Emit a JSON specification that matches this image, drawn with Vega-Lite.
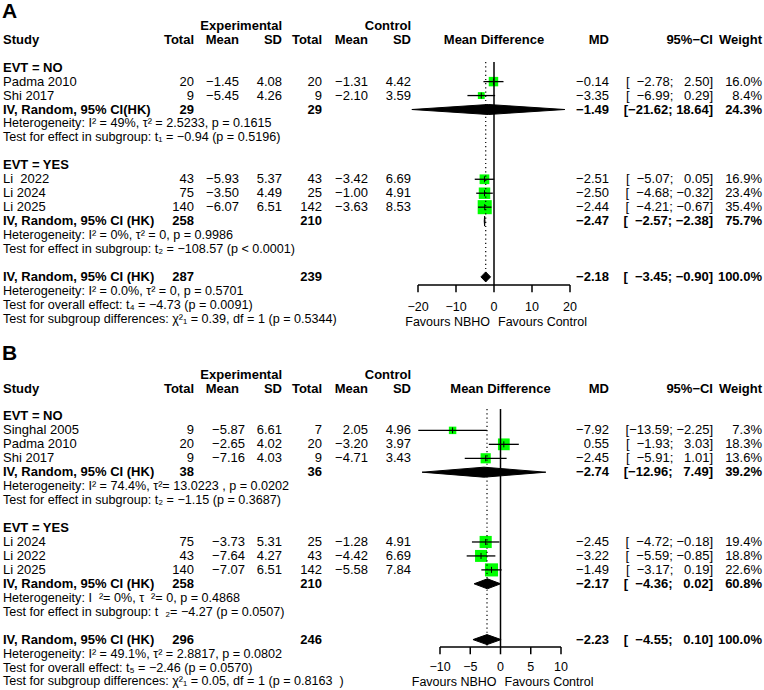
{
"$schema":"https://vega.github.io/schema/vega-lite/v6.json",
"width":764,"height":690,"padding":0,
"autosize":{"type":"fit","contains":"padding"},
"background":"#ffffff",
"config":{"view":{"stroke":null},"text":{"font":"Liberation Sans","fontSize":13,"baseline":"middle","color":"black"}},
"datasets":{
"rows":[
{"p":"A","r":0.45,"k":"panel","lab":"A"},
{"p":"A","r":1,"k":"hdr1","eS":"Experimental","cS":"Control"},
{"p":"A","r":2,"k":"hdr","lab":"Study","eT":"Total","eM":"Mean","eS":"SD","cT":"Total","cM":"Mean","cS":"SD","fp":"Mean Difference","mdT":"MD","ciT":"95%−CI","wT":"Weight"},
{"p":"A","r":4,"k":"group","lab":"EVT = NO"},
{"p":"A","r":5,"k":"study","lab":"Padma 2010","eT":"20","eM":"−1.45","eS":"4.08","cT":"20","cM":"−1.31","cS":"4.42","md":-0.14,"lo":-2.78,"hi":2.5,"w":16.0,"mdT":"−0.14","ciT":"[\u2007−2.78; \u20072.50]","wT":"16.0%"},
{"p":"A","r":6,"k":"study","lab":"Shi 2017","eT":"9","eM":"−5.45","eS":"4.26","cT":"9","cM":"−2.10","cS":"3.59","md":-3.35,"lo":-6.99,"hi":0.29,"w":8.4,"mdT":"−3.35","ciT":"[\u2007−6.99; \u20070.29]","wT":"8.4%"},
{"p":"A","r":7,"k":"sub","lab":"IV, Random, 95% CI(HK)","eT":"29","cT":"29","md":-1.49,"lo":-21.62,"hi":18.64,"mdT":"−1.49","ciT":"[−21.62; 18.64]","wT":"24.3%","dv":[-21.62,-1.49,18.64,-1.49],"dk":["m","t","m","b"]},
{"p":"A","r":8,"k":"het","lab":"Heterogeneity: I² = 49%, τ² = 2.5233, p = 0.1615"},
{"p":"A","r":9,"k":"het","lab":"Test for effect in subgroup: t₁ = −0.94 (p = 0.5196)"},
{"p":"A","r":11,"k":"group","lab":"EVT = YES"},
{"p":"A","r":12,"k":"study","lab":"Li\u00a0 2022","eT":"43","eM":"−5.93","eS":"5.37","cT":"43","cM":"−3.42","cS":"6.69","md":-2.51,"lo":-5.07,"hi":0.05,"w":16.9,"mdT":"−2.51","ciT":"[\u2007−5.07; \u20070.05]","wT":"16.9%"},
{"p":"A","r":13,"k":"study","lab":"Li 2024","eT":"75","eM":"−3.50","eS":"4.49","cT":"25","cM":"−1.00","cS":"4.91","md":-2.50,"lo":-4.68,"hi":-0.32,"w":23.4,"mdT":"−2.50","ciT":"[\u2007−4.68; −0.32]","wT":"23.4%"},
{"p":"A","r":14,"k":"study","lab":"Li 2025","eT":"140","eM":"−6.07","eS":"6.51","cT":"142","cM":"−3.63","cS":"8.53","md":-2.44,"lo":-4.21,"hi":-0.67,"w":35.4,"mdT":"−2.44","ciT":"[\u2007−4.21; −0.67]","wT":"35.4%"},
{"p":"A","r":15,"k":"sub","lab":"IV, Random, 95% CI (HK)","eT":"258","cT":"210","md":-2.47,"lo":-2.57,"hi":-2.38,"mdT":"−2.47","ciT":"[\u2007−2.57; −2.38]","wT":"75.7%","dv":[-2.57,-2.47,-2.38,-2.47],"dk":["m","t","m","b"]},
{"p":"A","r":16,"k":"het","lab":"Heterogeneity: I² = 0%, τ² = 0, p = 0.9986"},
{"p":"A","r":17,"k":"het","lab":"Test for effect in subgroup: t₂ = −108.57 (p < 0.0001)"},
{"p":"A","r":19,"k":"overall","lab":"IV, Random, 95% CI (HK)","eT":"287","cT":"239","md":-2.18,"lo":-3.45,"hi":-0.90,"mdT":"−2.18","ciT":"[\u2007−3.45; −0.90]","wT":"100.0%","dv":[-3.45,-2.18,-0.90,-2.18],"dk":["m","t","m","b"]},
{"p":"A","r":20,"k":"het","lab":"Heterogeneity: I² = 0.0%, τ² = 0, p = 0.5701"},
{"p":"A","r":21,"k":"het","lab":"Test for overall effect: t₄ = −4.73 (p = 0.0091)"},
{"p":"A","r":22,"k":"het","lab":"Test for subgroup differences: χ²₁ = 0.39, df = 1 (p = 0.5344)"},
{"p":"A","k":"tick","v":-20,"lab":"−20"},{"p":"A","k":"tick","v":-10,"lab":"−10"},{"p":"A","k":"tick","v":0,"lab":"0"},{"p":"A","k":"tick","v":10,"lab":"10"},{"p":"A","k":"tick","v":20,"lab":"20"},
{"p":"B","r":24.95,"k":"panel","lab":"B"},
{"p":"B","r":26,"k":"hdr1","eS":"Experimental","cS":"Control"},
{"p":"B","r":27,"k":"hdr","lab":"Study","eT":"Total","eM":"Mean","eS":"SD","cT":"Total","cM":"Mean","cS":"SD","fp":"Mean Difference","mdT":"MD","ciT":"95%−CI","wT":"Weight"},
{"p":"B","r":29,"k":"group","lab":"EVT = NO"},
{"p":"B","r":30,"k":"study","lab":"Singhal 2005","eT":"9","eM":"−5.87","eS":"6.61","cT":"7","cM":"2.05","cS":"4.96","md":-7.92,"lo":-13.59,"hi":-2.25,"w":7.3,"mdT":"−7.92","ciT":"[−13.59; −2.25]","wT":"7.3%"},
{"p":"B","r":31,"k":"study","lab":"Padma 2010","eT":"20","eM":"−2.65","eS":"4.02","cT":"20","cM":"−3.20","cS":"3.97","md":0.55,"lo":-1.93,"hi":3.03,"w":18.3,"mdT":"0.55","ciT":"[\u2007−1.93; \u20073.03]","wT":"18.3%"},
{"p":"B","r":32,"k":"study","lab":"Shi 2017","eT":"9","eM":"−7.16","eS":"4.03","cT":"9","cM":"−4.71","cS":"3.43","md":-2.45,"lo":-5.91,"hi":1.01,"w":13.6,"mdT":"−2.45","ciT":"[\u2007−5.91; \u20071.01]","wT":"13.6%"},
{"p":"B","r":33,"k":"sub","lab":"IV, Random, 95% CI (HK)","eT":"38","cT":"36","md":-2.74,"lo":-12.96,"hi":7.49,"mdT":"−2.74","ciT":"[−12.96; \u20077.49]","wT":"39.2%","dv":[-12.96,-2.74,7.49,-2.74],"dk":["m","t","m","b"]},
{"p":"B","r":34,"k":"het","lab":"Heterogeneity: I² = 74.4%, τ²= 13.0223 , p = 0.0202"},
{"p":"B","r":35,"k":"het","lab":"Test for effect in subgroup: t₂ = −1.15 (p = 0.3687)"},
{"p":"B","r":37,"k":"group","lab":"EVT = YES"},
{"p":"B","r":38,"k":"study","lab":"Li 2024","eT":"75","eM":"−3.73","eS":"5.31","cT":"25","cM":"−1.28","cS":"4.91","md":-2.45,"lo":-4.72,"hi":-0.18,"w":19.4,"mdT":"−2.45","ciT":"[\u2007−4.72; −0.18]","wT":"19.4%"},
{"p":"B","r":39,"k":"study","lab":"Li 2022","eT":"43","eM":"−7.64","eS":"4.27","cT":"43","cM":"−4.42","cS":"6.69","md":-3.22,"lo":-5.59,"hi":-0.85,"w":18.8,"mdT":"−3.22","ciT":"[\u2007−5.59; −0.85]","wT":"18.8%"},
{"p":"B","r":40,"k":"study","lab":"Li 2025","eT":"140","eM":"−7.07","eS":"6.51","cT":"142","cM":"−5.58","cS":"7.84","md":-1.49,"lo":-3.17,"hi":0.19,"w":22.6,"mdT":"−1.49","ciT":"[\u2007−3.17; \u20070.19]","wT":"22.6%"},
{"p":"B","r":41,"k":"sub","lab":"IV, Random, 95% CI (HK)","eT":"258","cT":"210","md":-2.17,"lo":-4.36,"hi":0.02,"mdT":"−2.17","ciT":"[\u2007−4.36; \u20070.02]","wT":"60.8%","dv":[-4.36,-2.17,0.02,-2.17],"dk":["m","t","m","b"]},
{"p":"B","r":42,"k":"het","lab":"Heterogeneity: I \u00a0²= 0%, τ \u00a0²= 0, p = 0.4868"},
{"p":"B","r":43,"k":"het","lab":"Test for effect in subgroup: t \u00a0₂= −4.27 (p = 0.0507)"},
{"p":"B","r":45,"k":"overall","lab":"IV, Random, 95% CI (HK)","eT":"296","cT":"246","md":-2.23,"lo":-4.55,"hi":0.10,"mdT":"−2.23","ciT":"[\u2007−4.55; \u20070.10]","wT":"100.0%","dv":[-4.55,-2.23,0.10,-2.23],"dk":["m","t","m","b"]},
{"p":"B","r":46,"k":"het","lab":"Heterogeneity: I² = 49.1%, τ² = 2.8817, p = 0.0802"},
{"p":"B","r":47,"k":"het","lab":"Test for overall effect: t₅ = −2.46 (p = 0.0570)"},
{"p":"B","r":48,"k":"het","lab":"Test for subgroup differences: χ²₁ = 0.05, df = 1 (p = 0.8163\u00a0 )"},
{"p":"B","k":"tick","v":-10,"lab":"−10"},{"p":"B","k":"tick","v":-5,"lab":"−5"},{"p":"B","k":"tick","v":0,"lab":"0"},{"p":"B","k":"tick","v":5,"lab":"5"},{"p":"B","k":"tick","v":10,"lab":"10"}
]
},
"data":{"name":"rows"},
"layer":[
{"encoding":{"y":{"field":"r","type":"quantitative","scale":{"domain":[-0.85,48.61],"reverse":true,"nice":false,"zero":false},"axis":null}},
"layer":[
{"transform":[{"filter":"datum.k=='panel'"}],"mark":{"type":"text","align":"left","baseline":"alphabetic","fontSize":21,"fontWeight":"bold"},"encoding":{"x":{"datum":2,"type":"quantitative","scale":{"domain":[0,764],"nice":false,"zero":false},"axis":null},"text":{"field":"lab","type":"nominal"}}},
{"transform":[{"filter":"datum.k=='study'"}],"mark":{"type":"text","align":"left"},"encoding":{"x":{"datum":3,"type":"quantitative","scale":{"domain":[0,764],"nice":false,"zero":false},"axis":null},"text":{"field":"lab","type":"nominal"}}},
{"transform":[{"filter":"datum.k=='hdr'||datum.k=='group'||datum.k=='sub'||datum.k=='overall'"}],"mark":{"type":"text","align":"left","fontWeight":"bold"},"encoding":{"x":{"datum":3,"type":"quantitative","scale":{"domain":[0,764],"nice":false,"zero":false},"axis":null},"text":{"field":"lab","type":"nominal"}}},
{"transform":[{"filter":"datum.k=='het'"}],"mark":{"type":"text","align":"left","fontSize":12.6},"encoding":{"x":{"datum":3,"type":"quantitative","scale":{"domain":[0,764],"nice":false,"zero":false},"axis":null},"text":{"field":"lab","type":"nominal"}}},
{"transform":[{"filter":"datum.k=='study'"}],"mark":{"type":"text","align":"right"},"encoding":{"x":{"datum":194,"type":"quantitative","scale":{"domain":[0,764],"nice":false,"zero":false},"axis":null},"text":{"field":"eT","type":"nominal"}}},
{"transform":[{"filter":"datum.k!='study' && datum.eT"}],"mark":{"type":"text","align":"right","fontWeight":"bold"},"encoding":{"x":{"datum":194,"type":"quantitative","scale":{"domain":[0,764],"nice":false,"zero":false},"axis":null},"text":{"field":"eT","type":"nominal"}}},
{"transform":[{"filter":"datum.k=='study' && datum.p=='A'"}],"mark":{"type":"text","align":"right"},"encoding":{"x":{"datum":239,"type":"quantitative","scale":{"domain":[0,764],"nice":false,"zero":false},"axis":null},"text":{"field":"eM","type":"nominal"}}},
{"transform":[{"filter":"datum.k=='study' && datum.p=='B'"}],"mark":{"type":"text","align":"right"},"encoding":{"x":{"datum":245,"type":"quantitative","scale":{"domain":[0,764],"nice":false,"zero":false},"axis":null},"text":{"field":"eM","type":"nominal"}}},
{"transform":[{"filter":"datum.k!='study' && datum.eM"}],"mark":{"type":"text","align":"right","fontWeight":"bold"},"encoding":{"x":{"datum":239,"type":"quantitative","scale":{"domain":[0,764],"nice":false,"zero":false},"axis":null},"text":{"field":"eM","type":"nominal"}}},
{"transform":[{"filter":"datum.k=='study'"}],"mark":{"type":"text","align":"right"},"encoding":{"x":{"datum":282,"type":"quantitative","scale":{"domain":[0,764],"nice":false,"zero":false},"axis":null},"text":{"field":"eS","type":"nominal"}}},
{"transform":[{"filter":"datum.k!='study' && datum.eS"}],"mark":{"type":"text","align":"right","fontWeight":"bold"},"encoding":{"x":{"datum":282,"type":"quantitative","scale":{"domain":[0,764],"nice":false,"zero":false},"axis":null},"text":{"field":"eS","type":"nominal"}}},
{"transform":[{"filter":"datum.k=='study'"}],"mark":{"type":"text","align":"right"},"encoding":{"x":{"datum":322,"type":"quantitative","scale":{"domain":[0,764],"nice":false,"zero":false},"axis":null},"text":{"field":"cT","type":"nominal"}}},
{"transform":[{"filter":"datum.k!='study' && datum.cT"}],"mark":{"type":"text","align":"right","fontWeight":"bold"},"encoding":{"x":{"datum":322,"type":"quantitative","scale":{"domain":[0,764],"nice":false,"zero":false},"axis":null},"text":{"field":"cT","type":"nominal"}}},
{"transform":[{"filter":"datum.k=='study'"}],"mark":{"type":"text","align":"right"},"encoding":{"x":{"datum":368,"type":"quantitative","scale":{"domain":[0,764],"nice":false,"zero":false},"axis":null},"text":{"field":"cM","type":"nominal"}}},
{"transform":[{"filter":"datum.k!='study' && datum.cM"}],"mark":{"type":"text","align":"right","fontWeight":"bold"},"encoding":{"x":{"datum":368,"type":"quantitative","scale":{"domain":[0,764],"nice":false,"zero":false},"axis":null},"text":{"field":"cM","type":"nominal"}}},
{"transform":[{"filter":"datum.k=='study'"}],"mark":{"type":"text","align":"right"},"encoding":{"x":{"datum":411,"type":"quantitative","scale":{"domain":[0,764],"nice":false,"zero":false},"axis":null},"text":{"field":"cS","type":"nominal"}}},
{"transform":[{"filter":"datum.k!='study' && datum.cS"}],"mark":{"type":"text","align":"right","fontWeight":"bold"},"encoding":{"x":{"datum":411,"type":"quantitative","scale":{"domain":[0,764],"nice":false,"zero":false},"axis":null},"text":{"field":"cS","type":"nominal"}}},
{"transform":[{"filter":"datum.k=='study'"}],"mark":{"type":"text","align":"right"},"encoding":{"x":{"datum":609,"type":"quantitative","scale":{"domain":[0,764],"nice":false,"zero":false},"axis":null},"text":{"field":"mdT","type":"nominal"}}},
{"transform":[{"filter":"datum.k!='study' && datum.mdT"}],"mark":{"type":"text","align":"right","fontWeight":"bold"},"encoding":{"x":{"datum":609,"type":"quantitative","scale":{"domain":[0,764],"nice":false,"zero":false},"axis":null},"text":{"field":"mdT","type":"nominal"}}},
{"transform":[{"filter":"datum.k=='study'"}],"mark":{"type":"text","align":"right"},"encoding":{"x":{"datum":713,"type":"quantitative","scale":{"domain":[0,764],"nice":false,"zero":false},"axis":null},"text":{"field":"ciT","type":"nominal"}}},
{"transform":[{"filter":"datum.k!='study' && datum.ciT"}],"mark":{"type":"text","align":"right","fontWeight":"bold"},"encoding":{"x":{"datum":713,"type":"quantitative","scale":{"domain":[0,764],"nice":false,"zero":false},"axis":null},"text":{"field":"ciT","type":"nominal"}}},
{"transform":[{"filter":"datum.k=='study'"}],"mark":{"type":"text","align":"right"},"encoding":{"x":{"datum":762,"type":"quantitative","scale":{"domain":[0,764],"nice":false,"zero":false},"axis":null},"text":{"field":"wT","type":"nominal"}}},
{"transform":[{"filter":"datum.k!='study' && datum.wT"}],"mark":{"type":"text","align":"right","fontWeight":"bold"},"encoding":{"x":{"datum":762,"type":"quantitative","scale":{"domain":[0,764],"nice":false,"zero":false},"axis":null},"text":{"field":"wT","type":"nominal"}}}
]},
{"layer":[
{"transform":[{"filter":"datum.p=='A' && datum.k=='study'"}],"mark":{"type":"point","shape":"square","filled":true,"color":"#00ff00","opacity":1,"strokeWidth":0},"encoding":{"x":{"field":"md","type":"quantitative","scale":{"domain":[-20,20],"range":[418,570],"nice":false,"zero":false},"axis":null},"y":{"field":"r","type":"quantitative","scale":{"domain":[-0.85,48.61],"reverse":true,"nice":false,"zero":false},"axis":null},"size":{"field":"w","type":"quantitative","scale":{"domain":[0,100],"range":[0,560],"zero":true},"legend":null}}},
{"transform":[{"filter":"datum.p=='A' && datum.k=='hdr'"}],"mark":{"type":"text","align":"center","fontWeight":"bold"},"encoding":{"x":{"datum":0,"type":"quantitative","scale":{"domain":[-20,20],"range":[418,570],"nice":false,"zero":false},"axis":null},"y":{"field":"r","type":"quantitative","scale":{"domain":[-0.85,48.61],"reverse":true,"nice":false,"zero":false},"axis":null},"text":{"field":"fp","type":"nominal"}}},
{"transform":[{"filter":"datum.p=='A' && datum.k=='overall'"}],"mark":{"type":"rule","color":"black","strokeWidth":1.5},"encoding":{"x":{"datum":0,"type":"quantitative","scale":{"domain":[-20,20],"range":[418,570],"nice":false,"zero":false},"axis":null},"y":{"datum":3.6,"type":"quantitative","scale":{"domain":[-0.85,48.61],"reverse":true,"nice":false,"zero":false},"axis":null},"y2":{"datum":19.58}}},
{"transform":[{"filter":"datum.p=='A' && datum.k=='overall'"}],"mark":{"type":"rule","color":"black","strokeWidth":1.2,"strokeDash":[1.2,3]},"encoding":{"x":{"field":"md","type":"quantitative","scale":{"domain":[-20,20],"range":[418,570],"nice":false,"zero":false},"axis":null},"y":{"datum":3.6,"type":"quantitative","scale":{"domain":[-0.85,48.61],"reverse":true,"nice":false,"zero":false},"axis":null},"y2":{"datum":19.58}}},
{"transform":[{"filter":"datum.p=='A' && datum.k=='overall'"}],"mark":{"type":"rule","color":"black","strokeWidth":1.5},"encoding":{"x":{"datum":-20,"type":"quantitative","scale":{"domain":[-20,20],"range":[418,570],"nice":false,"zero":false},"axis":null},"x2":{"datum":20},"y":{"datum":19.58,"type":"quantitative","scale":{"domain":[-0.85,48.61],"reverse":true,"nice":false,"zero":false},"axis":null}}},
{"transform":[{"filter":"datum.p=='A' && datum.k=='tick'"}],"mark":{"type":"rule","color":"black","strokeWidth":1.5},"encoding":{"x":{"field":"v","type":"quantitative","scale":{"domain":[-20,20],"range":[418,570],"nice":false,"zero":false},"axis":null},"y":{"datum":19.58,"type":"quantitative","scale":{"domain":[-0.85,48.61],"reverse":true,"nice":false,"zero":false},"axis":null},"y2":{"datum":20.1}}},
{"transform":[{"filter":"datum.p=='A' && datum.k=='tick'"}],"mark":{"type":"text","align":"center","fontSize":12.5},"encoding":{"x":{"field":"v","type":"quantitative","scale":{"domain":[-20,20],"range":[418,570],"nice":false,"zero":false},"axis":null},"y":{"datum":21.15,"type":"quantitative","scale":{"domain":[-0.85,48.61],"reverse":true,"nice":false,"zero":false},"axis":null},"text":{"field":"lab","type":"nominal"}}},
{"transform":[{"filter":"datum.p=='A' && datum.k=='overall'"}],"mark":{"type":"text","align":"right","dx":-4,"fontSize":12.5},"encoding":{"x":{"datum":0,"type":"quantitative","scale":{"domain":[-20,20],"range":[418,570],"nice":false,"zero":false},"axis":null},"y":{"datum":22.25,"type":"quantitative","scale":{"domain":[-0.85,48.61],"reverse":true,"nice":false,"zero":false},"axis":null},"text":{"value":"Favours NBHO"}}},
{"transform":[{"filter":"datum.p=='A' && datum.k=='overall'"}],"mark":{"type":"text","align":"left","dx":4,"fontSize":12.5},"encoding":{"x":{"datum":0,"type":"quantitative","scale":{"domain":[-20,20],"range":[418,570],"nice":false,"zero":false},"axis":null},"y":{"datum":22.25,"type":"quantitative","scale":{"domain":[-0.85,48.61],"reverse":true,"nice":false,"zero":false},"axis":null},"text":{"value":"Favours Control"}}},
{"transform":[{"filter":"datum.p=='A' && datum.k=='study'"}],"mark":{"type":"rule","color":"black","strokeWidth":1.3},"encoding":{"x":{"field":"lo","type":"quantitative","scale":{"domain":[-20,20],"range":[418,570],"nice":false,"zero":false},"axis":null},"x2":{"field":"hi"},"y":{"field":"r","type":"quantitative","scale":{"domain":[-0.85,48.61],"reverse":true,"nice":false,"zero":false},"axis":null}}},
{"transform":[{"filter":"datum.p=='A' && datum.k=='study'"}],"mark":{"type":"point","shape":"M0,-1L0,1","filled":false,"stroke":"black","strokeWidth":1,"size":36,"opacity":1},"encoding":{"x":{"field":"md","type":"quantitative","scale":{"domain":[-20,20],"range":[418,570],"nice":false,"zero":false},"axis":null},"y":{"field":"r","type":"quantitative","scale":{"domain":[-0.85,48.61],"reverse":true,"nice":false,"zero":false},"axis":null}}}
]},
{"layer":[
{"transform":[{"filter":"datum.p=='B' && datum.k=='study'"}],"mark":{"type":"point","shape":"square","filled":true,"color":"#00ff00","opacity":1,"strokeWidth":0},"encoding":{"x":{"field":"md","type":"quantitative","scale":{"domain":[-10,10],"range":[440,561],"nice":false,"zero":false},"axis":null},"y":{"field":"r","type":"quantitative","scale":{"domain":[-0.85,48.61],"reverse":true,"nice":false,"zero":false},"axis":null},"size":{"field":"w","type":"quantitative","scale":{"domain":[0,100],"range":[0,760],"zero":true},"legend":null}}},
{"transform":[{"filter":"datum.p=='B' && datum.k=='hdr'"}],"mark":{"type":"text","align":"center","fontWeight":"bold"},"encoding":{"x":{"datum":0,"type":"quantitative","scale":{"domain":[-10,10],"range":[440,561],"nice":false,"zero":false},"axis":null},"y":{"field":"r","type":"quantitative","scale":{"domain":[-0.85,48.61],"reverse":true,"nice":false,"zero":false},"axis":null},"text":{"field":"fp","type":"nominal"}}},
{"transform":[{"filter":"datum.p=='B' && datum.k=='overall'"}],"mark":{"type":"rule","color":"black","strokeWidth":1.5},"encoding":{"x":{"datum":0,"type":"quantitative","scale":{"domain":[-10,10],"range":[440,561],"nice":false,"zero":false},"axis":null},"y":{"datum":28.47,"type":"quantitative","scale":{"domain":[-0.85,48.61],"reverse":true,"nice":false,"zero":false},"axis":null},"y2":{"datum":45.53}}},
{"transform":[{"filter":"datum.p=='B' && datum.k=='overall'"}],"mark":{"type":"rule","color":"black","strokeWidth":1.2,"strokeDash":[1.2,3]},"encoding":{"x":{"field":"md","type":"quantitative","scale":{"domain":[-10,10],"range":[440,561],"nice":false,"zero":false},"axis":null},"y":{"datum":28.47,"type":"quantitative","scale":{"domain":[-0.85,48.61],"reverse":true,"nice":false,"zero":false},"axis":null},"y2":{"datum":45.53}}},
{"transform":[{"filter":"datum.p=='B' && datum.k=='overall'"}],"mark":{"type":"rule","color":"black","strokeWidth":1.5},"encoding":{"x":{"datum":-10,"type":"quantitative","scale":{"domain":[-10,10],"range":[440,561],"nice":false,"zero":false},"axis":null},"x2":{"datum":10},"y":{"datum":45.53,"type":"quantitative","scale":{"domain":[-0.85,48.61],"reverse":true,"nice":false,"zero":false},"axis":null}}},
{"transform":[{"filter":"datum.p=='B' && datum.k=='tick'"}],"mark":{"type":"rule","color":"black","strokeWidth":1.5},"encoding":{"x":{"field":"v","type":"quantitative","scale":{"domain":[-10,10],"range":[440,561],"nice":false,"zero":false},"axis":null},"y":{"datum":45.53,"type":"quantitative","scale":{"domain":[-0.85,48.61],"reverse":true,"nice":false,"zero":false},"axis":null},"y2":{"datum":46.05}}},
{"transform":[{"filter":"datum.p=='B' && datum.k=='tick'"}],"mark":{"type":"text","align":"center","fontSize":12.5},"encoding":{"x":{"field":"v","type":"quantitative","scale":{"domain":[-10,10],"range":[440,561],"nice":false,"zero":false},"axis":null},"y":{"datum":46.95,"type":"quantitative","scale":{"domain":[-0.85,48.61],"reverse":true,"nice":false,"zero":false},"axis":null},"text":{"field":"lab","type":"nominal"}}},
{"transform":[{"filter":"datum.p=='B' && datum.k=='overall'"}],"mark":{"type":"text","align":"right","dx":-4,"fontSize":12.5},"encoding":{"x":{"datum":0,"type":"quantitative","scale":{"domain":[-10,10],"range":[440,561],"nice":false,"zero":false},"axis":null},"y":{"datum":48.05,"type":"quantitative","scale":{"domain":[-0.85,48.61],"reverse":true,"nice":false,"zero":false},"axis":null},"text":{"value":"Favours NBHO"}}},
{"transform":[{"filter":"datum.p=='B' && datum.k=='overall'"}],"mark":{"type":"text","align":"left","dx":4,"fontSize":12.5},"encoding":{"x":{"datum":0,"type":"quantitative","scale":{"domain":[-10,10],"range":[440,561],"nice":false,"zero":false},"axis":null},"y":{"datum":48.05,"type":"quantitative","scale":{"domain":[-0.85,48.61],"reverse":true,"nice":false,"zero":false},"axis":null},"text":{"value":"Favours Control"}}},
{"transform":[{"filter":"datum.p=='B' && datum.k=='study'"}],"mark":{"type":"rule","color":"black","strokeWidth":1.3},"encoding":{"x":{"field":"lo","type":"quantitative","scale":{"domain":[-10,10],"range":[440,561],"nice":false,"zero":false},"axis":null},"x2":{"field":"hi"},"y":{"field":"r","type":"quantitative","scale":{"domain":[-0.85,48.61],"reverse":true,"nice":false,"zero":false},"axis":null}}},
{"transform":[{"filter":"datum.p=='B' && datum.k=='study'"}],"mark":{"type":"point","shape":"M0,-1L0,1","filled":false,"stroke":"black","strokeWidth":1,"size":36,"opacity":1},"encoding":{"x":{"field":"md","type":"quantitative","scale":{"domain":[-10,10],"range":[440,561],"nice":false,"zero":false},"axis":null},"y":{"field":"r","type":"quantitative","scale":{"domain":[-0.85,48.61],"reverse":true,"nice":false,"zero":false},"axis":null}}}
]},
{"transform":[{"filter":"datum.p=='A' && (datum.k=='sub'||datum.k=='overall')"},{"flatten":["dv","dk"]},{"window":[{"op":"row_number","as":"ord"}]}],"mark":{"type":"line","interpolate":"linear-closed","fill":"black","stroke":"black","strokeWidth":1},"encoding":{"x":{"field":"dv","type":"quantitative","scale":{"domain":[-20,20],"range":[418,570],"nice":false,"zero":false},"axis":null},"y":{"field":"r","type":"ordinal","scale":{"type":"point","domain":[0,1,2,3,4,5,6,7,8,9,10,11,12,13,14,15,16,17,18,19,20,21,22,23,24,25,26,27,28,29,30,31,32,33,34,35,36,37,38,39,40,41,42,43,44,45,46,47,48],"range":[11.85,681.45],"padding":0},"axis":null},"yOffset":{"field":"dk","type":"nominal","scale":{"type":"point","domain":["t","m","b"],"range":[-5,5],"padding":0}},"detail":{"field":"r","type":"nominal"},"order":{"field":"ord","type":"quantitative"}}},
{"transform":[{"filter":"datum.p=='B' && (datum.k=='sub'||datum.k=='overall')"},{"flatten":["dv","dk"]},{"window":[{"op":"row_number","as":"ord"}]}],"mark":{"type":"line","interpolate":"linear-closed","fill":"black","stroke":"black","strokeWidth":1},"encoding":{"x":{"field":"dv","type":"quantitative","scale":{"domain":[-10,10],"range":[440,561],"nice":false,"zero":false},"axis":null},"y":{"field":"r","type":"ordinal","scale":{"type":"point","domain":[0,1,2,3,4,5,6,7,8,9,10,11,12,13,14,15,16,17,18,19,20,21,22,23,24,25,26,27,28,29,30,31,32,33,34,35,36,37,38,39,40,41,42,43,44,45,46,47,48],"range":[11.85,681.45],"padding":0},"axis":null},"yOffset":{"field":"dk","type":"nominal","scale":{"type":"point","domain":["t","m","b"],"range":[-5,5],"padding":0}},"detail":{"field":"r","type":"nominal"},"order":{"field":"ord","type":"quantitative"}}}
],
"resolve":{"scale":{"x":"independent","y":"independent","size":"independent"}}
}
